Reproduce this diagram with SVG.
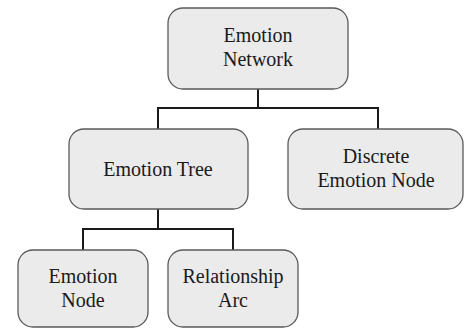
<svg xmlns="http://www.w3.org/2000/svg" width="464" height="329" viewBox="0 0 464 329">
<style>
.box{fill:#ebebeb;stroke:#5a5a5a;stroke-width:1.3}
.t{font-size:20px;fill:#1a1a1a;text-anchor:middle}
.c{fill:none;stroke:#1a1a1a;stroke-width:2}
</style>
<rect width="464" height="329" fill="#ffffff"/>
<g id="connectors">
<path class="c" d="M258 89V108M158 129V108H378V129"/>
<path class="c" d="M158 209V229M83 250V229H233V250"/>
</g>
<g font-family="Liberation Serif, DejaVu Serif, serif">
<g id="emotion-network">
<rect class="box" x="168" y="8" width="180" height="81" rx="15"/>
<text class="t" x="258" y="42">Emotion</text>
<text class="t" x="258" y="66">Network</text>
</g>
<g id="emotion-tree">
<rect class="box" x="69" y="129" width="179" height="80" rx="15"/>
<text class="t" x="158" y="176">Emotion Tree</text>
</g>
<g id="discrete-emotion-node">
<rect class="box" x="288" y="129" width="175" height="80" rx="15"/>
<text class="t" x="376" y="163">Discrete</text>
<text class="t" x="376" y="187">Emotion Node</text>
</g>
<g id="emotion-node">
<rect class="box" x="18" y="250" width="130" height="77" rx="15"/>
<text class="t" x="83" y="283">Emotion</text>
<text class="t" x="83" y="307">Node</text>
</g>
<g id="relationship-arc">
<rect class="box" x="168" y="250" width="130" height="77" rx="15"/>
<text class="t" x="233" y="283">Relationship</text>
<text class="t" x="233" y="307">Arc</text>
</g>
</g>
</svg>
